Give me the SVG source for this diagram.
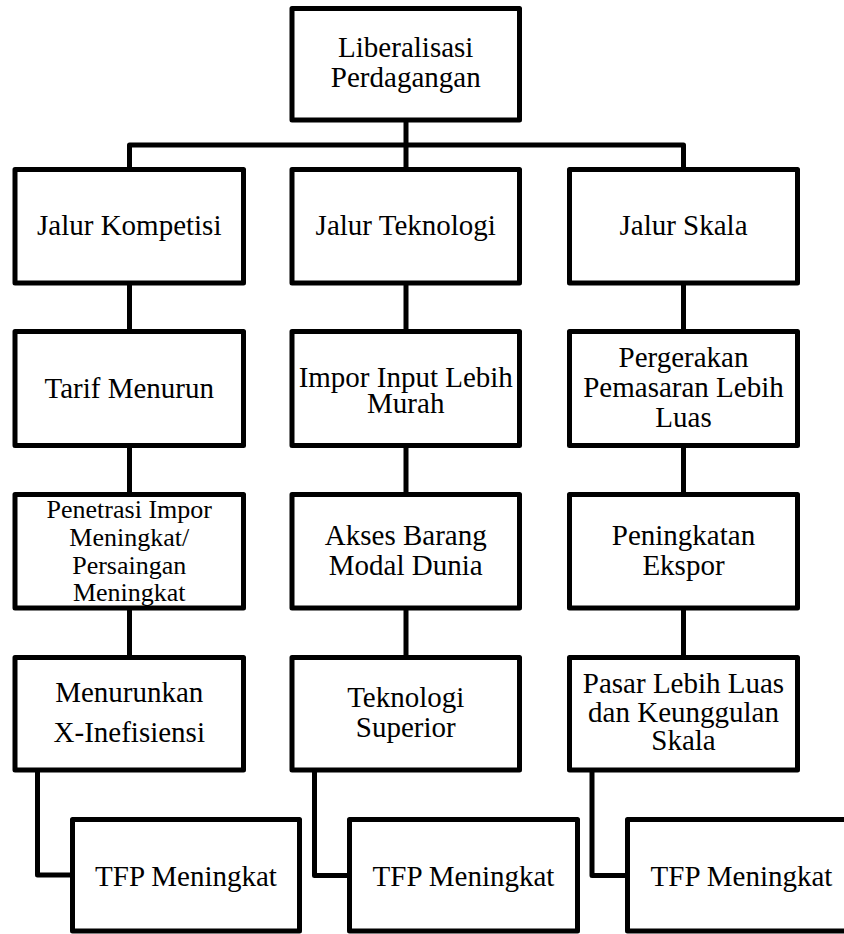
<svg xmlns="http://www.w3.org/2000/svg" width="844" height="934" viewBox="0 0 844 934">
<style>
  .box{fill:#fff;stroke:#000;stroke-width:5;stroke-linejoin:round}
  .con{fill:none;stroke:#000;stroke-width:5;stroke-linejoin:round}
  .t{font-family:"Liberation Serif",Tinos,"Times New Roman",Times,"Noto Serif","DejaVu Serif",serif;font-size:29px;fill:#000;text-anchor:middle}
  .sm{font-size:26px}
</style>
<rect width="844" height="934" fill="#fff"/>
<g id="connectors">
  <path class="con" d="M406,120 V169.5"/>
  <path class="con" d="M129.5,169.5 V145 H683.5 V169.5"/>
  <path class="con" d="M129.5,283 V331.5 M129.5,445.5 V494.5 M129.5,608 V657.5"/>
  <path class="con" d="M406,283 V331.5 M406,445.5 V494.5 M406,608 V657.5"/>
  <path class="con" d="M683.5,283 V331.5 M683.5,445.5 V494.5 M683.5,608 V657.5"/>
  <path class="con" d="M37.5,770 V875 H72.5"/>
  <path class="con" d="M314.5,770 V875.5 H349.5"/>
  <path class="con" d="M592,770 V875.5 H627.5"/>
</g>
<g id="n-liberalisasi">
  <rect class="box" x="292" y="8.5" width="227.5" height="111.5"/>
  <text class="t" x="405.75" y="57.3">Liberalisasi</text>
  <text class="t" x="405.75" y="87.3">Perdagangan</text>
</g>
<g id="n-jalur-kompetisi">
  <rect class="box" x="15" y="169.5" width="228.5" height="113.5"/>
  <text class="t" x="129.25" y="235">Jalur Kompetisi</text>
</g>
<g id="n-jalur-teknologi">
  <rect class="box" x="292" y="169.5" width="227.5" height="113.5"/>
  <text class="t" x="405.75" y="235">Jalur Teknologi</text>
</g>
<g id="n-jalur-skala">
  <rect class="box" x="569.5" y="169.5" width="228" height="113.5"/>
  <text class="t" x="683.5" y="235">Jalur Skala</text>
</g>
<g id="n-tarif">
  <rect class="box" x="15" y="331.5" width="228.5" height="114"/>
  <text class="t" x="129.25" y="397.5">Tarif Menurun</text>
</g>
<g id="n-impor-input">
  <rect class="box" x="292" y="331.5" width="227.5" height="114"/>
  <text class="t" x="405.75" y="386.7">Impor Input Lebih</text>
  <text class="t" x="405.75" y="413.3">Murah</text>
</g>
<g id="n-pergerakan">
  <rect class="box" x="569.5" y="331.5" width="228" height="114"/>
  <text class="t" x="683.5" y="366.7">Pergerakan</text>
  <text class="t" x="683.5" y="396.7">Pemasaran Lebih</text>
  <text class="t" x="683.5" y="426.7">Luas</text>
</g>
<g id="n-penetrasi">
  <rect class="box" x="15" y="494.5" width="228.5" height="113.5"/>
  <text class="t sm" x="129.25" y="518">Penetrasi Impor</text>
  <text class="t sm" x="129.25" y="546">Meningkat/</text>
  <text class="t sm" x="129.25" y="573.5">Persaingan</text>
  <text class="t sm" x="129.25" y="601">Meningkat</text>
</g>
<g id="n-akses">
  <rect class="box" x="292" y="494.5" width="227.5" height="113.5"/>
  <text class="t" x="405.75" y="545">Akses Barang</text>
  <text class="t" x="405.75" y="575">Modal Dunia</text>
</g>
<g id="n-peningkatan-ekspor">
  <rect class="box" x="569.5" y="494.5" width="228" height="113.5"/>
  <text class="t" x="683.5" y="545">Peningkatan</text>
  <text class="t" x="683.5" y="575">Ekspor</text>
</g>
<g id="n-menurunkan">
  <rect class="box" x="15" y="657.5" width="228.5" height="112.5"/>
  <text class="t" x="129.25" y="701.7">Menurunkan</text>
  <text class="t" x="129.25" y="741.7">X-Inefisiensi</text>
</g>
<g id="n-teknologi-superior">
  <rect class="box" x="292" y="657.5" width="227.5" height="112.5"/>
  <text class="t" x="405.75" y="706.7">Teknologi</text>
  <text class="t" x="405.75" y="736.7">Superior</text>
</g>
<g id="n-pasar">
  <rect class="box" x="569.5" y="657.5" width="228" height="112.5"/>
  <text class="t" x="683.5" y="693.3">Pasar Lebih Luas</text>
  <text class="t" x="683.5" y="721.7">dan Keunggulan</text>
  <text class="t" x="683.5" y="750">Skala</text>
</g>
<g id="n-tfp-1">
  <rect class="box" x="72.5" y="819.5" width="227" height="111.5"/>
  <text class="t" x="186" y="885.5">TFP Meningkat</text>
</g>
<g id="n-tfp-2">
  <rect class="box" x="349.5" y="819.5" width="228" height="111.5"/>
  <text class="t" x="463.5" y="885.5">TFP Meningkat</text>
</g>
<g id="n-tfp-3">
  <rect class="box" x="627.5" y="819.5" width="228" height="111.5"/>
  <text class="t" x="741.5" y="885.5">TFP Meningkat</text>
</g>
</svg>
